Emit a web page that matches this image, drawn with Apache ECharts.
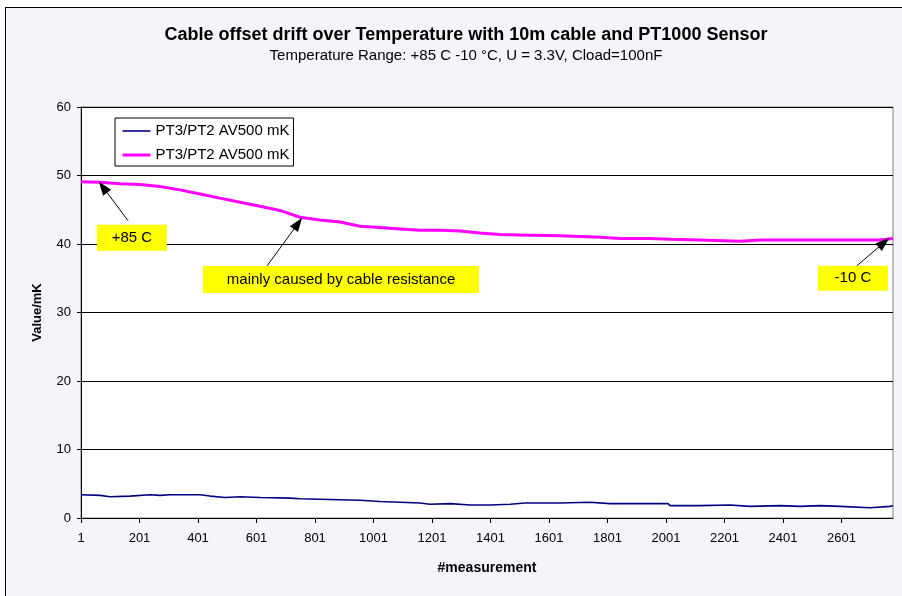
<!DOCTYPE html>
<html>
<head>
<meta charset="utf-8">
<script src="https://cdn.jsdelivr.net/npm/echarts@6/dist/echarts.min.js"></script>
<style>
  html, body { margin: 0; padding: 0; background: #fff; }
  #frame {
    position: absolute; left: 5px; top: 7px; width: 1000px; height: 1000px;
    background: #f4f5f9; border: 1px solid #000;
  }
  #chart { position: absolute; left: 0; top: 0; width: 902px; height: 596px; }
</style>
</head>
<body>
<div id="frame"></div>
<div id="chart"></div>
<script>
const pinkMeasurements = [1, 66, 134, 203, 271, 339, 408, 476, 545, 613, 681, 750, 818, 887, 955, 1023, 1092, 1160, 1228, 1297, 1365, 1434, 1502, 1639, 1776, 1844, 1946, 2015, 2117, 2254, 2322, 2459, 2630, 2733, 2777];
const pinkValues = [49.1, 49.0, 48.8, 48.7, 48.4, 47.9, 47.3, 46.7, 46.1, 45.5, 44.9, 43.9, 43.5, 43.2, 42.6, 42.4, 42.2, 42.0, 42.0, 41.9, 41.6, 41.4, 41.3, 41.2, 41.0, 40.8, 40.8, 40.7, 40.6, 40.4, 40.6, 40.6, 40.6, 40.6, 40.8];

const blueMeasurements = [1, 66, 100, 168, 237, 271, 305, 408, 442, 493, 545, 613, 716, 750, 852, 955, 1023, 1092, 1160, 1194, 1263, 1331, 1399, 1468, 1519, 1639, 1741, 1810, 1912, 2008, 2015, 2117, 2220, 2288, 2391, 2459, 2528, 2596, 2699, 2767, 2777];
const blueValues = [3.4, 3.3, 3.1, 3.2, 3.4, 3.3, 3.4, 3.4, 3.2, 3.0, 3.1, 3.0, 2.9, 2.8, 2.7, 2.6, 2.4, 2.3, 2.2, 2.0, 2.1, 1.9, 1.9, 2.0, 2.2, 2.2, 2.3, 2.1, 2.1, 2.1, 1.8, 1.8, 1.9, 1.7, 1.8, 1.7, 1.8, 1.7, 1.5, 1.7, 1.8];

const seriesLabel = "PT3/PT2 AV500 mK";
const lastMeasurement = 2777;

const font = "Arial, 'Liberation Sans', sans-serif";

// x axis runs on (measurement - 1) so ticks fall on 1, 201, 401 ...
const toPoints = (xs, ys) => xs.map((m, i) => [m - 1, ys[i]]);

const chart = echarts.init(document.getElementById("chart"));

chart.setOption({
  animation: false,
  backgroundColor: "transparent",
  textStyle: { fontFamily: font },
  title: {
    text: "Cable offset drift over Temperature with 10m cable and PT1000 Sensor",
    subtext: "Temperature Range: +85 C -10 °C, U = 3.3V, Cload=100nF",
    left: 461,
    textAlign: "center",
    top: 21,
    itemGap: 4,
    textStyle: { fontFamily: font, fontSize: 18, fontWeight: "bold", color: "#000" },
    subtextStyle: { fontFamily: font, fontSize: 15, color: "#000" },
  },
  legend: {
    orient: "vertical",
    left: 115,
    top: 118,
    padding: [4, 4, 2, 6],
    itemGap: 6,
    itemWidth: 28,
    itemHeight: 14,
    backgroundColor: "#fff",
    borderColor: "#000",
    borderWidth: 1,
    borderRadius: 0,
    selectedMode: false,
    itemStyle: { opacity: 0, borderWidth: 0 },
    data: [
      { name: "blue", lineStyle: { color: "#000080", width: 1.6 } },
      { name: "pink", lineStyle: { color: "#ff00ff", width: 3 } },
    ],
    formatter: () => seriesLabel,
    textStyle: { fontFamily: font, fontSize: 15, color: "#000", lineHeight: 18 },
  },
  grid: {
    left: 81,
    top: 107,
    width: 812,
    height: 411,
    show: true,
    backgroundColor: "#fff",
    borderColor: "#808080",
    borderWidth: 1,
  },
  xAxis: {
    type: "value",
    min: 0,
    max: lastMeasurement - 1,
    interval: 200,
    name: "#measurement",
    nameLocation: "middle",
    nameGap: 43,
    nameTextStyle: { fontFamily: font, fontSize: 14, fontWeight: "bold", color: "#000" },
    axisLine: { show: true, lineStyle: { color: "#000", width: 1 } },
    axisTick: { show: true, length: 5, lineStyle: { color: "#000" } },
    axisLabel: {
      color: "#000",
      fontSize: 13,
      margin: 14,
      showMaxLabel: false,
      formatter: (v) => String(v + 1),
    },
    splitLine: { show: false },
  },
  yAxis: {
    type: "value",
    min: 0,
    max: 60,
    interval: 10,
    name: "Value/mK",
    nameLocation: "middle",
    nameRotate: 90,
    nameGap: 37,
    nameTextStyle: { fontFamily: font, fontSize: 13, fontWeight: "bold", color: "#000" },
    axisLine: { show: true, lineStyle: { color: "#000", width: 1 } },
    axisTick: { show: true, length: 4, lineStyle: { color: "#000" } },
    axisLabel: { color: "#000", fontSize: 13, margin: 10 },
    splitLine: { show: true, lineStyle: { color: "#000", width: 1 } },
  },
  series: [
    {
      name: "blue",
      type: "line",
      data: toPoints(blueMeasurements, blueValues),
      symbol: "none",
      lineStyle: { color: "#000080", width: 1.6 },
      itemStyle: { color: "#000080" },
      z: 3,
    },
    {
      name: "pink",
      type: "line",
      data: toPoints(pinkMeasurements, pinkValues),
      symbol: "none",
      lineStyle: { color: "#ff00ff", width: 3 },
      itemStyle: { color: "#ff00ff" },
      z: 3,
      markLine: {
        silent: true,
        symbol: ["none", "triangle"],
        symbolSize: [10, 14],
        label: { show: false },
        emphasis: { disabled: true },
        lineStyle: { color: "#000", width: 1, type: "solid" },
        data: [
          [{ coord: [161, 43.4] }, { coord: [75, 48.3] }],
          [{ coord: [636, 36.8] }, { coord: [742, 43.0] }],
          [{ coord: [2652, 36.8] }, { coord: [2745, 40.2] }],
        ],
      },
      markPoint: {
        silent: true,
        symbol: "rect",
        itemStyle: { color: "#ffff00" },
        label: { show: true, position: "inside", color: "#000", fontSize: 15, fontFamily: font },
        data: [
          { coord: [174, 40.9], symbolSize: [70, 26], label: { formatter: "+85 C" } },
          { coord: [889, 34.8], symbolSize: [276, 27], label: { formatter: "mainly caused by cable resistance" } },
          { coord: [2639, 35.0], symbolSize: [70, 25], label: { formatter: "-10 C" } },
        ],
      },
    },
  ],
});
</script>
</body>
</html>
